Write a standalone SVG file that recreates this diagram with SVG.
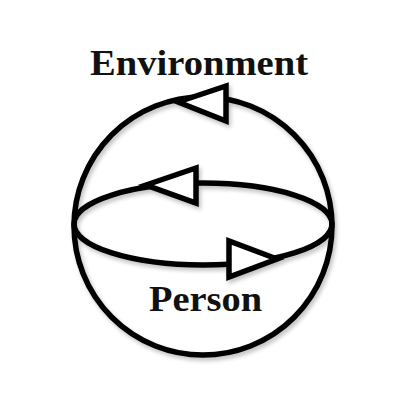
<svg xmlns="http://www.w3.org/2000/svg" width="400" height="400" viewBox="0 0 400 400">
<defs>
<style>
.line{fill:none;stroke:#000;stroke-width:5.5}
.arrow{fill:#fff;stroke:#000;stroke-width:5.5;stroke-linejoin:miter}
.label{font-family:"Liberation Serif","Times New Roman",serif;font-weight:bold;font-size:36px;fill:#111}
</style>
<filter id="sh" x="-20%" y="-20%" width="140%" height="140%">
<feGaussianBlur in="SourceAlpha" stdDeviation="2"/>
<feOffset dx="2" dy="3"/>
<feComponentTransfer><feFuncA type="linear" slope="0.25"/></feComponentTransfer>
<feMerge><feMergeNode/><feMergeNode in="SourceGraphic"/></feMerge>
</filter>
</defs>
<rect width="400" height="400" fill="#fff"/>
<g id="connectors" filter="url(#sh)">
<circle class="line" cx="203" cy="226" r="129"/>
<ellipse class="line" cx="203" cy="224" rx="129" ry="41"/>
<polygon class="arrow" points="178,102 226,86 226,121"/>
<polygon class="arrow" points="146,185 196,168 196,203"/>
<polygon class="arrow" points="277,259 229,241 229,277"/>
</g>
<g id="environment">
<text class="label" x="90" y="75" textLength="218" lengthAdjust="spacingAndGlyphs">Environment</text>
</g>
<g id="person">
<text class="label" x="149" y="311" textLength="113" lengthAdjust="spacingAndGlyphs">Person</text>
</g>
</svg>
